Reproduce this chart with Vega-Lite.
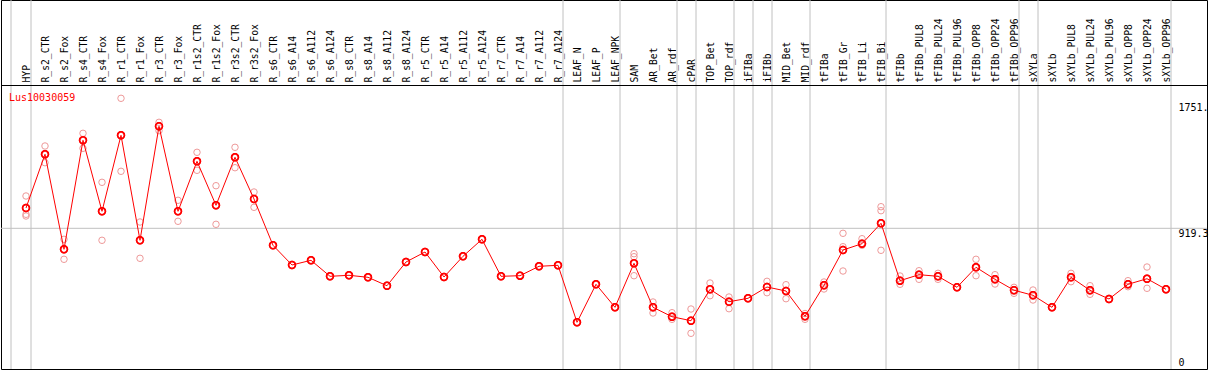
{
  "$schema": "https://vega.github.io/schema/vega-lite/v6.json",
  "width": 1206,
  "height": 369,
  "autosize": "none",
  "padding": {"left": 1, "top": 0, "right": 2, "bottom": 1},
  "background": "white",
  "config": {"view": {"stroke": "black", "strokeWidth": 1}, "font": "DejaVu Sans Mono"},
  "title": {"text": "Lus10030059", "anchor": "start", "frame": "group", "orient": "top", "offset": -111, "baseline": "alphabetic", "color": "#ff0000", "font": "DejaVu Sans Mono", "fontSize": 10, "fontWeight": "normal", "dx": 8},
  "datasets": {
    "means": [
      {"name": "HYP", "value": 1053.6},
      {"name": "R_s2_CTR", "value": 1408.9},
      {"name": "R_s2_Fox", "value": 780.3},
      {"name": "R_s4_CTR", "value": 1501.5},
      {"name": "R_s4_Fox", "value": 1031.8},
      {"name": "R_r1_CTR", "value": 1534.6},
      {"name": "R_r1_Fox", "value": 839.9},
      {"name": "R_r3_CTR", "value": 1594.2},
      {"name": "R_r3_Fox", "value": 1031.8},
      {"name": "R_r1s2_CTR", "value": 1362.6},
      {"name": "R_r1s2_Fox", "value": 1071.5},
      {"name": "R_r3s2_CTR", "value": 1389.0},
      {"name": "R_r3s2_Fox", "value": 1113.2},
      {"name": "R_s6_CTR", "value": 806.8},
      {"name": "R_s6_A14", "value": 676.5},
      {"name": "R_s6_A112", "value": 707.6},
      {"name": "R_s6_A124", "value": 601.7},
      {"name": "R_s8_CTR", "value": 608.3},
      {"name": "R_s8_A14", "value": 595.1},
      {"name": "R_s8_A112", "value": 539.5},
      {"name": "R_s8_A124", "value": 696.3},
      {"name": "R_r5_CTR", "value": 762.5},
      {"name": "R_r5_A14", "value": 597.1},
      {"name": "R_r5_A112", "value": 734.0},
      {"name": "R_r5_A124", "value": 846.5},
      {"name": "R_r7_CTR", "value": 601.7},
      {"name": "R_r7_A14", "value": 605.7},
      {"name": "R_r7_A112", "value": 667.9},
      {"name": "R_r7_A124", "value": 674.5},
      {"name": "LEAF_N", "value": 297.3},
      {"name": "LEAF_P", "value": 548.8},
      {"name": "LEAF_NPK", "value": 396.6},
      {"name": "SAM", "value": 687.7},
      {"name": "AR_Bet", "value": 396.6},
      {"name": "AR_rdf", "value": 334.4},
      {"name": "cPAR", "value": 307.9},
      {"name": "TOP_Bet", "value": 515.7},
      {"name": "TOP_rdf", "value": 433.6},
      {"name": "iFIBa", "value": 456.1},
      {"name": "iFIBb", "value": 530.9},
      {"name": "MID_Bet", "value": 504.4},
      {"name": "MID_rdf", "value": 337.0},
      {"name": "tFIBa", "value": 542.2},
      {"name": "tFIB_Gr", "value": 775.7},
      {"name": "tFIB_Li", "value": 817.4},
      {"name": "tFIB_Bi", "value": 952.4},
      {"name": "tFIBb", "value": 572.6},
      {"name": "tFIBb_PUL8", "value": 612.3},
      {"name": "tFIBb_PUL24", "value": 601.7},
      {"name": "tFIBb_PUL96", "value": 528.9},
      {"name": "tFIBb_OPP8", "value": 661.2},
      {"name": "tFIBb_OPP24", "value": 581.8},
      {"name": "tFIBb_OPP96", "value": 509.7},
      {"name": "sXYLa", "value": 476.0},
      {"name": "sXYLb", "value": 396.6},
      {"name": "sXYLb_PUL8", "value": 595.1},
      {"name": "sXYLb_PUL24", "value": 509.1},
      {"name": "sXYLb_PUL96", "value": 451.5},
      {"name": "sXYLb_OPP8", "value": 548.8},
      {"name": "sXYLb_OPP24", "value": 585.8},
      {"name": "sXYLb_OPP96", "value": 515.7}
    ],
    "reps": [
      {"name": "HYP", "value": 1133.0}, {"name": "HYP", "value": 1011.9}, {"name": "HYP", "value": 1000.7},
      {"name": "R_s2_CTR", "value": 1463.8}, {"name": "R_s2_CTR", "value": 1353.3},
      {"name": "R_s2_Fox", "value": 846.5}, {"name": "R_s2_Fox", "value": 714.2},
      {"name": "R_s4_CTR", "value": 1547.8}, {"name": "R_s4_CTR", "value": 1448.6},
      {"name": "R_s4_Fox", "value": 1223.6}, {"name": "R_s4_Fox", "value": 839.9},
      {"name": "R_r1_CTR", "value": 1779.4}, {"name": "R_r1_CTR", "value": 1296.4},
      {"name": "R_r1_Fox", "value": 961.0}, {"name": "R_r1_Fox", "value": 720.8},
      {"name": "R_r3_CTR", "value": 1620.6}, {"name": "R_r3_CTR", "value": 1565.0},
      {"name": "R_r3_Fox", "value": 1104.5}, {"name": "R_r3_Fox", "value": 965.6},
      {"name": "R_r1s2_CTR", "value": 1422.1}, {"name": "R_r1s2_CTR", "value": 1303.0},
      {"name": "R_r1s2_Fox", "value": 1201.1}, {"name": "R_r1s2_Fox", "value": 945.7},
      {"name": "R_r3s2_CTR", "value": 1455.2}, {"name": "R_r3s2_CTR", "value": 1320.2},
      {"name": "R_r3s2_Fox", "value": 1159.5}, {"name": "R_r3s2_Fox", "value": 1058.2},
      {"name": "SAM", "value": 751.2}, {"name": "SAM", "value": 731.4}, {"name": "SAM", "value": 605.7},
      {"name": "AR_Bet", "value": 431.7}, {"name": "AR_Bet", "value": 358.9},
      {"name": "AR_rdf", "value": 360.9}, {"name": "AR_rdf", "value": 317.2},
      {"name": "cPAR", "value": 385.3}, {"name": "cPAR", "value": 224.6},
      {"name": "TOP_Bet", "value": 557.4}, {"name": "TOP_Bet", "value": 473.3},
      {"name": "TOP_rdf", "value": 464.7}, {"name": "TOP_rdf", "value": 387.3},
      {"name": "iFIBb", "value": 568.6}, {"name": "iFIBb", "value": 493.2},
      {"name": "MID_Bet", "value": 546.1}, {"name": "MID_Bet", "value": 453.5},
      {"name": "MID_rdf", "value": 355.5}, {"name": "MID_rdf", "value": 317.2},
      {"name": "tFIBa", "value": 564.0}, {"name": "tFIBa", "value": 517.7},
      {"name": "tFIB_Gr", "value": 886.2}, {"name": "tFIB_Gr", "value": 797.5}, {"name": "tFIB_Gr", "value": 636.8},
      {"name": "tFIB_Li", "value": 850.5}, {"name": "tFIB_Li", "value": 806.8},
      {"name": "tFIB_Bi", "value": 1062.2}, {"name": "tFIB_Bi", "value": 1035.7}, {"name": "tFIB_Bi", "value": 773.7},
      {"name": "tFIBb", "value": 603.7}, {"name": "tFIBb", "value": 548.8},
      {"name": "tFIBb_PUL8", "value": 638.7}, {"name": "tFIBb_PUL8", "value": 581.8},
      {"name": "tFIBb_PUL24", "value": 621.5}, {"name": "tFIBb_PUL24", "value": 581.8},
      {"name": "tFIBb_OPP8", "value": 714.2}, {"name": "tFIBb_OPP8", "value": 605.7},
      {"name": "tFIBb_OPP24", "value": 612.3}, {"name": "tFIBb_OPP24", "value": 550.7},
      {"name": "tFIBb_OPP96", "value": 528.9}, {"name": "tFIBb_OPP96", "value": 489.2},
      {"name": "sXYLa", "value": 511.1}, {"name": "sXYLa", "value": 444.9},
      {"name": "sXYLb_PUL8", "value": 621.5}, {"name": "sXYLb_PUL8", "value": 566.0},
      {"name": "sXYLb_PUL24", "value": 539.5}, {"name": "sXYLb_PUL24", "value": 482.6},
      {"name": "sXYLb_OPP8", "value": 572.6}, {"name": "sXYLb_OPP8", "value": 532.9},
      {"name": "sXYLb_OPP24", "value": 663.2}, {"name": "sXYLb_OPP24", "value": 522.3}
    ],
    "seps": [
      {"name": "HYP", "edge": "start"},
      {"name": "HYP", "edge": "end"},
      {"name": "R_r7_A124", "edge": "end"},
      {"name": "LEAF_NPK", "edge": "end"},
      {"name": "AR_rdf", "edge": "end"},
      {"name": "cPAR", "edge": "end"},
      {"name": "TOP_rdf", "edge": "end"},
      {"name": "iFIBa", "edge": "end"},
      {"name": "iFIBb", "edge": "end"},
      {"name": "MID_rdf", "edge": "end"},
      {"name": "tFIB_Bi", "edge": "end"},
      {"name": "tFIBb_OPP96", "edge": "end"},
      {"name": "sXYLa", "edge": "end"},
      {"name": "sXYLb_OPP96", "edge": "end"}
    ]
  },
  "layer": [
    {
      "data": {"name": "means"},
      "mark": {"type": "point", "shape": "circle", "filled": false, "stroke": "#ff0000", "strokeWidth": 1.5, "size": 48, "opacity": 1},
      "encoding": {
        "x": {
          "field": "name", "type": "nominal", "sort": null,
          "scale": {
            "type": "point", "range": [25, 1165], "padding": 0,
            "domain": ["HYP","R_s2_CTR","R_s2_Fox","R_s4_CTR","R_s4_Fox","R_r1_CTR","R_r1_Fox","R_r3_CTR","R_r3_Fox","R_r1s2_CTR","R_r1s2_Fox","R_r3s2_CTR","R_r3s2_Fox","R_s6_CTR","R_s6_A14","R_s6_A112","R_s6_A124","R_s8_CTR","R_s8_A14","R_s8_A112","R_s8_A124","R_r5_CTR","R_r5_A14","R_r5_A112","R_r5_A124","R_r7_CTR","R_r7_A14","R_r7_A112","R_r7_A124","LEAF_N","LEAF_P","LEAF_NPK","SAM","AR_Bet","AR_rdf","cPAR","TOP_Bet","TOP_rdf","iFIBa","iFIBb","MID_Bet","MID_rdf","tFIBa","tFIB_Gr","tFIB_Li","tFIB_Bi","tFIBb","tFIBb_PUL8","tFIBb_PUL24","tFIBb_PUL96","tFIBb_OPP8","tFIBb_OPP24","tFIBb_OPP96","sXYLa","sXYLb","sXYLb_PUL8","sXYLb_PUL24","sXYLb_PUL96","sXYLb_OPP8","sXYLb_OPP24","sXYLb_OPP96"]
          },
          "axis": {
            "orient": "top", "offset": -85, "title": null, "ticks": false, "grid": false,
            "domain": false,
            "labelAngle": -90, "labelAlign": "left", "labelBaseline": "middle",
            "labelFont": "DejaVu Sans Mono", "labelFontSize": 9.7, "labelColor": "#000000",
            "labelPadding": 3, "labelOverlap": false, "labelBound": false, "labelFlush": false, "labelLimit": 0
          }
        },
        "y": {
          "field": "value", "type": "quantitative",
          "scale": {"domain": [-11.6, 2429.8], "nice": false, "zero": false},
          "axis": {
            "orient": "right", "offset": -36, "title": null, "ticks": false, "domain": false, "grid": false,
            "values": [0, 919.3, 1751],
            "labelExpr": "datum.value == 0 ? '0' : datum.value == 1751 ? '1751.' : '919.3'",
            "labelAlign": "left",
            "labelBaseline": {"condition": {"test": "datum.value == 0", "value": "bottom"}, "value": "top"},
            "labelPadding": 7, "labelFont": "DejaVu Sans Mono", "labelFontSize": 10, "labelColor": "#000000",
            "labelOverlap": false, "labelBound": false, "labelFlush": false
          }
        }
      }
    },
    {
      "data": {"name": "seps"},
      "transform": [{"filter": "datum.edge == 'end'"}],
      "mark": {"type": "rule", "color": "#c0c0c0", "strokeWidth": 1, "xOffset": 5},
      "encoding": {
        "x": {"field": "name", "type": "nominal", "sort": null}
      }
    },
    {
      "data": {"name": "seps"},
      "transform": [{"filter": "datum.edge == 'start'"}],
      "mark": {"type": "rule", "color": "#c0c0c0", "strokeWidth": 1, "xOffset": -15},
      "encoding": {
        "x": {"field": "name", "type": "nominal", "sort": null}
      }
    },
    {
      "data": {"values": [{"level": 919.3, "kind": "grid"}, {"level": 1864.1, "kind": "header"}]},
      "mark": {"type": "rule", "strokeWidth": 1},
      "encoding": {
        "y": {"field": "level", "type": "quantitative"},
        "color": {"field": "kind", "type": "nominal", "scale": {"domain": ["grid", "header"], "range": ["#c0c0c0", "#000000"]}, "legend": null}
      }
    },
    {
      "data": {"name": "reps"},
      "mark": {"type": "point", "shape": "circle", "filled": false, "stroke": "#ee9999", "strokeWidth": 1, "size": 42, "opacity": 1},
      "encoding": {
        "x": {"field": "name", "type": "nominal", "sort": null},
        "y": {"field": "value", "type": "quantitative"}
      }
    },
    {
      "data": {"name": "means"},
      "mark": {"type": "line", "color": "#ff0000", "strokeWidth": 1},
      "encoding": {
        "x": {"field": "name", "type": "nominal", "sort": null},
        "y": {"field": "value", "type": "quantitative"}
      }
    },
    {
      "data": {"name": "means"},
      "mark": {"type": "point", "shape": "circle", "filled": false, "stroke": "#ff0000", "strokeWidth": 1.5, "size": 48, "opacity": 1},
      "encoding": {
        "x": {"field": "name", "type": "nominal", "sort": null},
        "y": {"field": "value", "type": "quantitative"}
      }
    }
  ]
}
